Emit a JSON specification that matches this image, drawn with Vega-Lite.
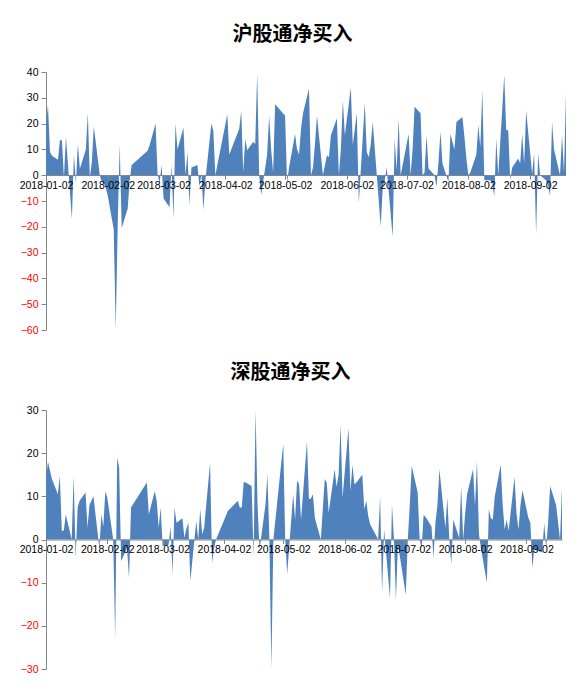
{
  "$schema": "https://vega.github.io/schema/vega-lite/v6.json",
  "background": "white",
  "padding": {"left": 19, "top": 25, "right": 0, "bottom": 0},
  "spacing": 27,
  "config": {
    "view": {"stroke": null},
    "font": "Liberation Sans",
    "title": {"font": "Noto Sans CJK SC", "fontSize": 20, "fontWeight": "bold", "color": "#000000", "anchor": "middle", "frame": "bounds"},
    "axis": {"grid": false, "domainColor": "#868686", "tickColor": "#868686", "labelFont": "Liberation Sans", "labelFontSize": 10.5, "labelColor": "#000000", "title": null}
  },
  "datasets": {
    "sh": [
      {"date": "2018/01/02", "v": 20}, {"date": "2018/01/03", "v": 27}, {"date": "2018/01/04", "v": 9}, {"date": "2018/01/05", "v": 7.5},
      {"date": "2018/01/08", "v": 6}, {"date": "2018/01/09", "v": 13.5}, {"date": "2018/01/10", "v": 13.5}, {"date": "2018/01/11", "v": -1},
      {"date": "2018/01/12", "v": 15}, {"date": "2018/01/15", "v": -17}, {"date": "2018/01/16", "v": 8}, {"date": "2018/01/17", "v": -3},
      {"date": "2018/01/18", "v": 12}, {"date": "2018/01/19", "v": 2.5}, {"date": "2018/01/22", "v": 10}, {"date": "2018/01/23", "v": 24},
      {"date": "2018/01/24", "v": -1}, {"date": "2018/01/25", "v": 5}, {"date": "2018/01/26", "v": 19}, {"date": "2018/01/29", "v": 0},
      {"date": "2018/01/30", "v": -2.5}, {"date": "2018/01/31", "v": -3}, {"date": "2018/02/01", "v": -5}, {"date": "2018/02/02", "v": -8},
      {"date": "2018/02/05", "v": -21}, {"date": "2018/02/06", "v": -60}, {"date": "2018/02/07", "v": -19}, {"date": "2018/02/08", "v": 12},
      {"date": "2018/02/09", "v": -20.5}, {"date": "2018/02/12", "v": -13}, {"date": "2018/02/13", "v": -2}, {"date": "2018/02/14", "v": 4},
      {"date": "2018/02/22", "v": 9.5}, {"date": "2018/02/23", "v": 11.6}, {"date": "2018/02/26", "v": 20}, {"date": "2018/02/27", "v": 0.5},
      {"date": "2018/02/28", "v": -3}, {"date": "2018/03/01", "v": 4}, {"date": "2018/03/02", "v": -9}, {"date": "2018/03/05", "v": -12.4},
      {"date": "2018/03/06", "v": 4}, {"date": "2018/03/07", "v": -17}, {"date": "2018/03/08", "v": 20}, {"date": "2018/03/09", "v": 10},
      {"date": "2018/03/12", "v": 18.5}, {"date": "2018/03/13", "v": 0}, {"date": "2018/03/14", "v": 9}, {"date": "2018/03/15", "v": -11.6},
      {"date": "2018/03/16", "v": 3}, {"date": "2018/03/19", "v": 4}, {"date": "2018/03/20", "v": -4.5}, {"date": "2018/03/21", "v": 0.6},
      {"date": "2018/03/22", "v": -13.5}, {"date": "2018/03/23", "v": -2}, {"date": "2018/03/26", "v": 20}, {"date": "2018/03/27", "v": 17},
      {"date": "2018/03/28", "v": 0}, {"date": "2018/03/29", "v": 4}, {"date": "2018/04/03", "v": 23.5}, {"date": "2018/04/04", "v": 8},
      {"date": "2018/04/09", "v": 18}, {"date": "2018/04/10", "v": 25}, {"date": "2018/04/11", "v": 1}, {"date": "2018/04/12", "v": 14},
      {"date": "2018/04/13", "v": 9.7}, {"date": "2018/04/16", "v": 13}, {"date": "2018/04/17", "v": 12}, {"date": "2018/04/18", "v": 39.5},
      {"date": "2018/04/19", "v": 0}, {"date": "2018/04/20", "v": -7.7}, {"date": "2018/04/23", "v": 8}, {"date": "2018/04/24", "v": 23},
      {"date": "2018/04/25", "v": 10}, {"date": "2018/04/26", "v": 1}, {"date": "2018/04/27", "v": 27.5}, {"date": "2018/05/02", "v": 23},
      {"date": "2018/05/03", "v": -3}, {"date": "2018/05/04", "v": 3}, {"date": "2018/05/07", "v": 16}, {"date": "2018/05/08", "v": 10},
      {"date": "2018/05/09", "v": 8}, {"date": "2018/05/10", "v": 18}, {"date": "2018/05/11", "v": 24}, {"date": "2018/05/14", "v": 33.5},
      {"date": "2018/05/15", "v": 0}, {"date": "2018/05/16", "v": 3}, {"date": "2018/05/17", "v": 12}, {"date": "2018/05/18", "v": 23},
      {"date": "2018/05/21", "v": 0}, {"date": "2018/05/23", "v": 7.7}, {"date": "2018/05/24", "v": 7}, {"date": "2018/05/25", "v": 15.5},
      {"date": "2018/05/28", "v": 22}, {"date": "2018/05/29", "v": 0}, {"date": "2018/05/30", "v": 10}, {"date": "2018/05/31", "v": 29},
      {"date": "2018/06/01", "v": 15.5}, {"date": "2018/06/04", "v": 34}, {"date": "2018/06/05", "v": 11.6}, {"date": "2018/06/06", "v": 18},
      {"date": "2018/06/07", "v": 24}, {"date": "2018/06/08", "v": -11}, {"date": "2018/06/11", "v": 28}, {"date": "2018/06/12", "v": 9},
      {"date": "2018/06/13", "v": 7}, {"date": "2018/06/14", "v": 12}, {"date": "2018/06/15", "v": 20.6}, {"date": "2018/06/19", "v": -20},
      {"date": "2018/06/20", "v": -5}, {"date": "2018/06/21", "v": -2}, {"date": "2018/06/22", "v": 3}, {"date": "2018/06/25", "v": -24},
      {"date": "2018/06/26", "v": 14}, {"date": "2018/06/27", "v": 2}, {"date": "2018/06/28", "v": 22}, {"date": "2018/06/29", "v": 0},
      {"date": "2018/07/03", "v": 16}, {"date": "2018/07/04", "v": 0}, {"date": "2018/07/05", "v": 10}, {"date": "2018/07/06", "v": 26.5},
      {"date": "2018/07/09", "v": 24}, {"date": "2018/07/10", "v": 0}, {"date": "2018/07/11", "v": 1}, {"date": "2018/07/12", "v": 15.5},
      {"date": "2018/07/13", "v": 2.6}, {"date": "2018/07/16", "v": 0}, {"date": "2018/07/17", "v": -4.5}, {"date": "2018/07/18", "v": 5},
      {"date": "2018/07/19", "v": 16.8}, {"date": "2018/07/20", "v": 4.5}, {"date": "2018/07/23", "v": -2.6}, {"date": "2018/07/24", "v": 16},
      {"date": "2018/07/25", "v": 13}, {"date": "2018/07/26", "v": 10}, {"date": "2018/07/27", "v": 20.6}, {"date": "2018/07/30", "v": 22.6},
      {"date": "2018/07/31", "v": 15}, {"date": "2018/08/01", "v": 6.5}, {"date": "2018/08/02", "v": 0}, {"date": "2018/08/03", "v": 1},
      {"date": "2018/08/06", "v": 8}, {"date": "2018/08/07", "v": 19.4}, {"date": "2018/08/08", "v": 11}, {"date": "2018/08/09", "v": 33},
      {"date": "2018/08/10", "v": -2}, {"date": "2018/08/13", "v": -2}, {"date": "2018/08/14", "v": -3}, {"date": "2018/08/15", "v": -8.4},
      {"date": "2018/08/16", "v": 14}, {"date": "2018/08/17", "v": 0}, {"date": "2018/08/20", "v": 38.7}, {"date": "2018/08/21", "v": 17.4},
      {"date": "2018/08/22", "v": 17.4}, {"date": "2018/08/23", "v": -2}, {"date": "2018/08/24", "v": 3}, {"date": "2018/08/27", "v": 6.5},
      {"date": "2018/08/28", "v": 4.5}, {"date": "2018/08/29", "v": 16}, {"date": "2018/08/30", "v": 4.5}, {"date": "2018/08/31", "v": 25},
      {"date": "2018/09/03", "v": 0.6}, {"date": "2018/09/04", "v": 8.4}, {"date": "2018/09/05", "v": -23}, {"date": "2018/09/06", "v": 8.4},
      {"date": "2018/09/07", "v": 0}, {"date": "2018/09/10", "v": -2}, {"date": "2018/09/11", "v": -4}, {"date": "2018/09/12", "v": -8},
      {"date": "2018/09/13", "v": 20.6}, {"date": "2018/09/14", "v": 10}, {"date": "2018/09/17", "v": 0}, {"date": "2018/09/18", "v": 15.5},
      {"date": "2018/09/19", "v": 1}, {"date": "2018/09/20", "v": 32}
    ],
    "sz": [
      {"date": "2018/01/02", "v": 14}, {"date": "2018/01/03", "v": 18}, {"date": "2018/01/04", "v": 16}, {"date": "2018/01/05", "v": 14},
      {"date": "2018/01/08", "v": 10.5}, {"date": "2018/01/09", "v": 14.7}, {"date": "2018/01/10", "v": 2}, {"date": "2018/01/11", "v": 2},
      {"date": "2018/01/12", "v": 5.8}, {"date": "2018/01/15", "v": 0}, {"date": "2018/01/16", "v": 14.7}, {"date": "2018/01/17", "v": -4.3},
      {"date": "2018/01/18", "v": 7.4}, {"date": "2018/01/19", "v": 9}, {"date": "2018/01/22", "v": 10.9}, {"date": "2018/01/23", "v": 2.7},
      {"date": "2018/01/24", "v": 8}, {"date": "2018/01/25", "v": 9}, {"date": "2018/01/26", "v": 10}, {"date": "2018/01/29", "v": -2},
      {"date": "2018/01/30", "v": 5.8}, {"date": "2018/01/31", "v": 3}, {"date": "2018/02/01", "v": 11.2}, {"date": "2018/02/02", "v": 9.7},
      {"date": "2018/02/05", "v": 0}, {"date": "2018/02/06", "v": -22.9}, {"date": "2018/02/07", "v": 19}, {"date": "2018/02/08", "v": 16.7},
      {"date": "2018/02/09", "v": -5}, {"date": "2018/02/12", "v": -2}, {"date": "2018/02/13", "v": -9}, {"date": "2018/02/14", "v": 7.4},
      {"date": "2018/02/22", "v": 13.2}, {"date": "2018/02/23", "v": 5.8}, {"date": "2018/02/26", "v": 11.2}, {"date": "2018/02/27", "v": 9},
      {"date": "2018/02/28", "v": 2.7}, {"date": "2018/03/01", "v": 7.4}, {"date": "2018/03/02", "v": -1.5}, {"date": "2018/03/05", "v": -1.2},
      {"date": "2018/03/06", "v": 3}, {"date": "2018/03/07", "v": -8}, {"date": "2018/03/08", "v": 7.5}, {"date": "2018/03/09", "v": 3.9},
      {"date": "2018/03/12", "v": 4.9}, {"date": "2018/03/13", "v": 0.4}, {"date": "2018/03/14", "v": 2.5}, {"date": "2018/03/15", "v": 3.9},
      {"date": "2018/03/16", "v": -9.7}, {"date": "2018/03/19", "v": 4.3}, {"date": "2018/03/20", "v": 0}, {"date": "2018/03/21", "v": 7},
      {"date": "2018/03/22", "v": 1.2}, {"date": "2018/03/23", "v": 2.7}, {"date": "2018/03/26", "v": 17.8}, {"date": "2018/03/27", "v": -5.4},
      {"date": "2018/03/28", "v": -2}, {"date": "2018/03/29", "v": 0}, {"date": "2018/04/03", "v": 5.5}, {"date": "2018/04/04", "v": 6.6},
      {"date": "2018/04/09", "v": 9}, {"date": "2018/04/10", "v": 7.4}, {"date": "2018/04/11", "v": 7.4}, {"date": "2018/04/12", "v": 13.3},
      {"date": "2018/04/13", "v": 13.2}, {"date": "2018/04/16", "v": 12.4}, {"date": "2018/04/17", "v": -4}, {"date": "2018/04/18", "v": 30},
      {"date": "2018/04/19", "v": 8}, {"date": "2018/04/20", "v": -2.3}, {"date": "2018/04/23", "v": 8}, {"date": "2018/04/24", "v": 15},
      {"date": "2018/04/25", "v": 0}, {"date": "2018/04/26", "v": -30}, {"date": "2018/04/27", "v": 0}, {"date": "2018/05/02", "v": 22.2},
      {"date": "2018/05/03", "v": 0}, {"date": "2018/05/04", "v": -8}, {"date": "2018/05/07", "v": 10.5}, {"date": "2018/05/08", "v": 4.6},
      {"date": "2018/05/09", "v": 13.6}, {"date": "2018/05/10", "v": 12.8}, {"date": "2018/05/11", "v": 4.6}, {"date": "2018/05/14", "v": 22.7},
      {"date": "2018/05/15", "v": 9.3}, {"date": "2018/05/16", "v": 9.5}, {"date": "2018/05/17", "v": 10.5}, {"date": "2018/05/18", "v": 5},
      {"date": "2018/05/21", "v": 0}, {"date": "2018/05/23", "v": 14}, {"date": "2018/05/24", "v": 13.2}, {"date": "2018/05/25", "v": 6.2},
      {"date": "2018/05/28", "v": 16.3}, {"date": "2018/05/29", "v": 12.2}, {"date": "2018/05/30", "v": 15}, {"date": "2018/05/31", "v": 26.7},
      {"date": "2018/06/01", "v": 9.7}, {"date": "2018/06/04", "v": 25.8}, {"date": "2018/06/05", "v": 11.2}, {"date": "2018/06/06", "v": 17.3},
      {"date": "2018/06/07", "v": 12.8}, {"date": "2018/06/08", "v": 13.2}, {"date": "2018/06/11", "v": 15}, {"date": "2018/06/12", "v": 7},
      {"date": "2018/06/13", "v": 9}, {"date": "2018/06/14", "v": 5.4}, {"date": "2018/06/15", "v": 3.5}, {"date": "2018/06/19", "v": 0},
      {"date": "2018/06/20", "v": 10}, {"date": "2018/06/21", "v": -12.4}, {"date": "2018/06/22", "v": 2.3}, {"date": "2018/06/25", "v": -13.6},
      {"date": "2018/06/26", "v": 8.1}, {"date": "2018/06/27", "v": 0}, {"date": "2018/06/28", "v": -14}, {"date": "2018/06/29", "v": -1},
      {"date": "2018/07/03", "v": -12.8}, {"date": "2018/07/04", "v": 0}, {"date": "2018/07/05", "v": 8}, {"date": "2018/07/06", "v": 17},
      {"date": "2018/07/09", "v": 10.9}, {"date": "2018/07/10", "v": 0}, {"date": "2018/07/11", "v": -2}, {"date": "2018/07/12", "v": 5.7},
      {"date": "2018/07/13", "v": 5.2}, {"date": "2018/07/16", "v": 3}, {"date": "2018/07/17", "v": -4.3}, {"date": "2018/07/18", "v": 4},
      {"date": "2018/07/19", "v": 8}, {"date": "2018/07/20", "v": 16.3}, {"date": "2018/07/23", "v": 2.7}, {"date": "2018/07/24", "v": 9.7},
      {"date": "2018/07/25", "v": 0}, {"date": "2018/07/26", "v": -5.8}, {"date": "2018/07/27", "v": 4.6}, {"date": "2018/07/30", "v": 0.4},
      {"date": "2018/07/31", "v": 12.4}, {"date": "2018/08/01", "v": 0}, {"date": "2018/08/02", "v": 6}, {"date": "2018/08/03", "v": 10.5},
      {"date": "2018/08/06", "v": 16.3}, {"date": "2018/08/07", "v": 7.8}, {"date": "2018/08/08", "v": 18.2}, {"date": "2018/08/09", "v": 1.2},
      {"date": "2018/08/10", "v": -2}, {"date": "2018/08/13", "v": -10}, {"date": "2018/08/14", "v": 7}, {"date": "2018/08/15", "v": 5},
      {"date": "2018/08/16", "v": 4.6}, {"date": "2018/08/17", "v": 10}, {"date": "2018/08/20", "v": 17.3}, {"date": "2018/08/21", "v": 8},
      {"date": "2018/08/22", "v": 2.3}, {"date": "2018/08/23", "v": 4.6}, {"date": "2018/08/24", "v": 2}, {"date": "2018/08/27", "v": 14.5},
      {"date": "2018/08/28", "v": 6}, {"date": "2018/08/29", "v": 2.3}, {"date": "2018/08/30", "v": 8}, {"date": "2018/08/31", "v": 11.4},
      {"date": "2018/09/03", "v": 5}, {"date": "2018/09/04", "v": 3.9}, {"date": "2018/09/05", "v": -6.6}, {"date": "2018/09/06", "v": -2},
      {"date": "2018/09/07", "v": -2.5}, {"date": "2018/09/10", "v": -3}, {"date": "2018/09/11", "v": 3.9}, {"date": "2018/09/12", "v": -2},
      {"date": "2018/09/13", "v": 4}, {"date": "2018/09/14", "v": 12.4}, {"date": "2018/09/17", "v": 8}, {"date": "2018/09/18", "v": 4},
      {"date": "2018/09/19", "v": 0}, {"date": "2018/09/20", "v": 12}
    ]
  },
  "vconcat": [
    {
      "title": {"text": "沪股通净买入", "offset": 22},
      "width": 520,
      "height": 258,
      "data": {"name": "sh"},
      "mark": {"type": "area", "color": "#4F81BD"},
      "encoding": {
        "x": {
          "field": "date", "type": "temporal",
          "scale": {"domain": [{"year": 2018, "month": 1, "date": 2}, {"year": 2018, "month": 9, "date": 20}]},
          "axis": {
            "values": [{"year": 2018, "month": 1, "date": 2}, {"year": 2018, "month": 2, "date": 2}, {"year": 2018, "month": 3, "date": 2}, {"year": 2018, "month": 4, "date": 2}, {"year": 2018, "month": 5, "date": 2}, {"year": 2018, "month": 6, "date": 2}, {"year": 2018, "month": 7, "date": 2}, {"year": 2018, "month": 8, "date": 2}, {"year": 2018, "month": 9, "date": 2}],
            "format": "%Y-%m-%d", "offset": -155, "zindex": 1, "tickSize": 4, "labelPadding": 1, "labelFlush": false, "labelOverlap": false
          }
        },
        "y": {
          "field": "v", "type": "quantitative",
          "scale": {"domain": [-60, 40], "nice": false},
          "axis": {"values": [-60, -50, -40, -30, -20, -10, 0, 10, 20, 30, 40], "tickSize": 5, "labelPadding": 3,
            "labelColor": {"condition": {"test": "datum.value < 0", "value": "#FF0000"}, "value": "#000000"}}
        }
      }
    },
    {
      "title": {"text": "深股通净买入", "offset": 22},
      "width": 516,
      "height": 259,
      "data": {"name": "sz"},
      "mark": {"type": "area", "color": "#4F81BD"},
      "encoding": {
        "x": {
          "field": "date", "type": "temporal",
          "scale": {"domain": [{"year": 2018, "month": 1, "date": 2}, {"year": 2018, "month": 9, "date": 20}]},
          "axis": {
            "values": [{"year": 2018, "month": 1, "date": 2}, {"year": 2018, "month": 2, "date": 2}, {"year": 2018, "month": 3, "date": 2}, {"year": 2018, "month": 4, "date": 2}, {"year": 2018, "month": 5, "date": 2}, {"year": 2018, "month": 6, "date": 2}, {"year": 2018, "month": 7, "date": 2}, {"year": 2018, "month": 8, "date": 2}, {"year": 2018, "month": 9, "date": 2}],
            "format": "%Y-%m-%d", "offset": -129.5, "zindex": 1, "tickSize": 4, "labelPadding": 1, "labelFlush": false, "labelOverlap": false
          }
        },
        "y": {
          "field": "v", "type": "quantitative",
          "scale": {"domain": [-30, 30], "nice": false},
          "axis": {"values": [-30, -20, -10, 0, 10, 20, 30], "tickSize": 5, "labelPadding": 3,
            "labelColor": {"condition": {"test": "datum.value < 0", "value": "#FF0000"}, "value": "#000000"}}
        }
      }
    }
  ]
}
